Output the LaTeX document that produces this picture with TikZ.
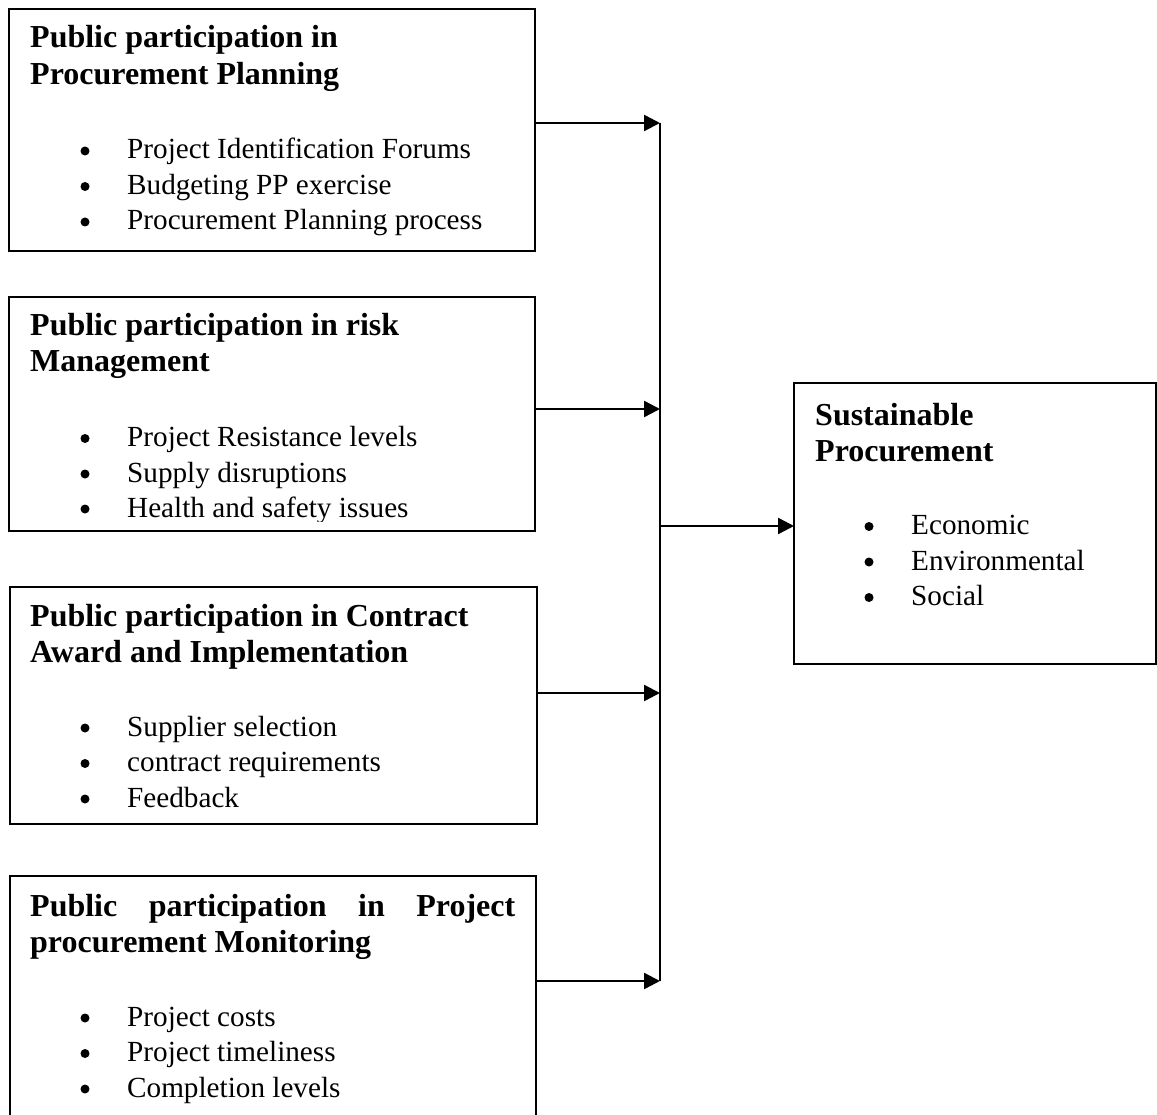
\documentclass[tikz,border=0pt]{standalone}
\usepackage{fontspec}
\setmainfont{Liberation Serif}
\usetikzlibrary{arrows.meta}
\tikzset{
  box/.style={draw, line width=2.2pt, inner sep=0pt, outer sep=0pt, anchor=north west},
  hd/.style={font=\bfseries\fontsize{32}{37}\selectfont, inner sep=0pt, anchor=base west},
  tx/.style={font=\fontsize{29.2}{35}\selectfont, inner sep=0pt, anchor=base west},
  arr/.style={line width=2.4pt, -{Triangle[length=16pt,width=16pt]}},
  vline/.style={line width=1.9pt}
}
\begin{document}
\begin{tikzpicture}[x=1pt, y=-1pt]
\useasboundingbox (0,0) rectangle (1157,1115);
% boxes
\node[box, minimum width=526pt, minimum height=242pt] (b1) at (9,9) {};
\node[box, minimum width=526pt, minimum height=234pt] (b2) at (9,297) {};
\node[box, minimum width=527pt, minimum height=237pt] (b3) at (10,587) {};
\node[box, minimum width=526pt, minimum height=250pt] (b4) at (10,876) {};
\node[box, minimum width=362pt, minimum height=281pt] (sp) at (794,383) {};
% box 1
\node[hd] (h1a) at (30,48) {Public participation in};
\node[hd] (h1b) at (30,85) {Procurement Planning};
\foreach \y/\t/\n in {159/Project Identification Forums/a, 194.5/Budgeting PP exercise/b, 230/Procurement Planning process/c}{
  \fill (85,\y-8) circle (4.5pt);
  \node[tx] (l1\n) at (127,\y) {\t};
}
% box 2 (text clipped by the box bottom)
\node[hd] (h2a) at (30,336) {Public participation in risk};
\node[hd] (h2b) at (30,372) {Management};
\begin{scope}
\clip (9,297) rectangle (535,521.5);
\foreach \y/\t/\n in {446.5/Project Resistance levels/a, 482/Supply disruptions/b, 517/Health and safety issues/c}{
  \fill (85,\y-8) circle (4.5pt);
  \node[tx] (l2\n) at (127,\y) {\t};
}
\end{scope}
% box 3
\node[hd] (h3a) at (30,626) {Public participation in Contract};
\node[hd] (h3b) at (30,662) {Award and Implementation};
\foreach \y/\t/\n in {736/Supplier selection/a, 771.5/contract requirements/b, 807/Feedback/c}{
  \fill (85,\y-8) circle (4.5pt);
  \node[tx] (l3\n) at (127,\y) {\t};
}
% box 4
\node[hd] (h4a) at (30,916) {\makebox[485pt][s]{Public\hfill participation\hfill in\hfill Project}};
\node[hd] (h4b) at (30,952) {procurement Monitoring};
\foreach \y/\t/\n in {1026/Project costs/a, 1061.5/Project timeliness/b, 1097/Completion levels/c}{
  \fill (85,\y-8) circle (4.5pt);
  \node[tx] (l4\n) at (127,\y) {\t};
}
% sustainable procurement
\node[hd] (hsa) at (815,425) {Sustainable};
\node[hd] (hsb) at (815,461) {Procurement};
\foreach \y/\t/\n in {534.5/Economic/a, 570/Environmental/b, 605.5/Social/c}{
  \fill (869,\y-8) circle (4.5pt);
  \node[tx] (ls\n) at (911,\y) {\t};
}
% connectors
\coordinate (j1) at (660,123);
\coordinate (j2) at (660,409);
\coordinate (j3) at (660,693);
\coordinate (j4) at (660,981);
\coordinate (jo) at (660,526);
\draw[vline] (j1) -- (j4);
\draw[arr] (b1.east |- j1) -- (j1);
\draw[arr] (b2.east |- j2) -- (j2);
\draw[arr] (b3.east |- j3) -- (j3);
\draw[arr] (b4.east |- j4) -- (j4);
\draw[arr] (jo) -- (jo -| sp.west);
\end{tikzpicture}
\end{document}
